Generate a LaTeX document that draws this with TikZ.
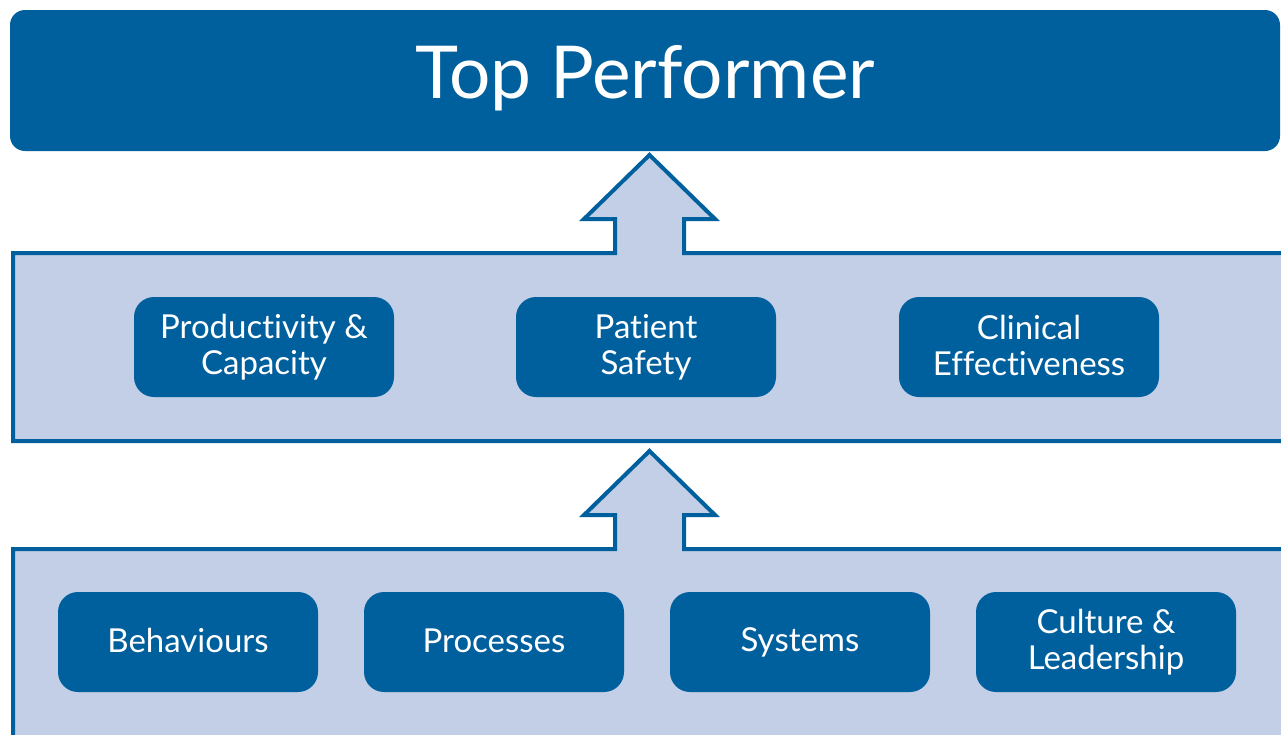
\documentclass[tikz,border=0pt]{standalone}
\usepackage{fontspec}
\setmainfont{Lato}[Ligatures=NoCommon]
\definecolor{dblue}{RGB}{0,96,158}
\definecolor{lblue}{RGB}{195,206,231}
\newcommand{\mystrut}{\rule[-5pt]{0pt}{30pt}}
\newcommand{\titlestrut}{\rule[-20pt]{0pt}{76pt}}
\begin{document}
\begin{tikzpicture}[x=1pt,y=-1pt,
  band/.style={draw=dblue,line width=4pt,fill=lblue,line join=miter},
  itembox/.style={fill=dblue,rounded corners=20pt,minimum width=260pt,minimum height=100pt,
    text=white,align=center,inner sep=0pt,
    font=\fontsize{33}{36}\selectfont},
  topbox/.style={fill=dblue,rounded corners=15pt,minimum width=1270pt,minimum height=141pt,
    text=white,inner sep=0pt,font=\fontsize{73}{80}\selectfont}]
\useasboundingbox (0,0) rectangle (1281,734);
\clip (0,0) rectangle (1281,734);
% top box
\node[topbox] (top) at (645,80.5) {\titlestrut Top Performer};
% middle band with arrow
\draw[band] (13,253) -- (615,253) -- (615,219) -- (584,219) -- (649.5,155) -- (715,219) -- (684,219) -- (684,253)
  -- (1295,253) -- (1295,441) -- (13,441) -- cycle;
% bottom band with arrow
\draw[band] (13,549) -- (615,549) -- (615,515) -- (584,515) -- (649.5,451) -- (715,515) -- (684,515) -- (684,549)
  -- (1295,549) -- (1295,760) -- (13,760) -- cycle;
% middle items
\node[itembox] (prod) at (264,347) {\mystrut Productivity \&\\Capacity\mystrut};
\node[itembox] (safe) at (646,347) {\mystrut Patient\\Safety\mystrut};
\node[itembox] (clin) at (1029,347) {\mystrut Clinical\\Effectiveness\mystrut};
% bottom items
\node[itembox] (beh) at (188,642) {\mystrut Behaviours};
\node[itembox] (proc) at (494,642) {\mystrut Processes};
\node[itembox] (sys) at (800,642) {\mystrut Systems};
\node[itembox] (cult) at (1106,642) {\mystrut Culture \&\\Leadership\mystrut};
\end{tikzpicture}
\end{document}
